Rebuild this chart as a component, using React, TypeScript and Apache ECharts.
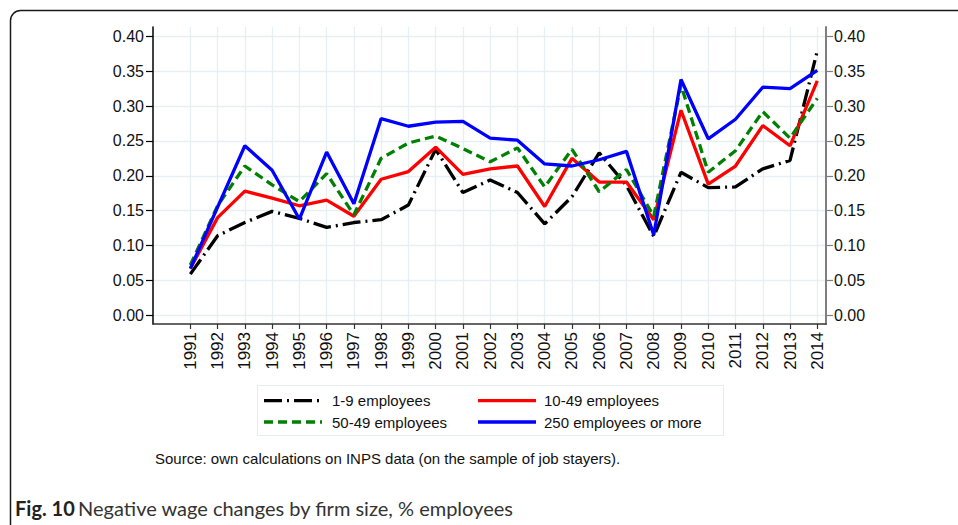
import React, { useEffect, useRef } from "react";
import * as echarts from "echarts";

const years = [1991, 1992, 1993, 1994, 1995, 1996, 1997, 1998, 1999, 2000, 2001, 2002, 2003, 2004, 2005, 2006, 2007, 2008, 2009, 2010, 2011, 2012, 2013, 2014];
const yTicks = [0, 0.05, 0.1, 0.15, 0.2, 0.25, 0.3, 0.35, 0.4];
const seriesNames = ["1-9 employees", "10-49 employees", "50-49 employees", "250 employees or more"];
const firms1to9 = [0.059, 0.114, 0.133, 0.149, 0.139, 0.126, 0.133, 0.137, 0.158, 0.238, 0.176, 0.194, 0.176, 0.131, 0.170, 0.233, 0.186, 0.113, 0.205, 0.183, 0.184, 0.210, 0.222, 0.379];
const firms10to49 = [0.067, 0.140, 0.178, 0.168, 0.157, 0.165, 0.142, 0.195, 0.206, 0.241, 0.202, 0.210, 0.214, 0.156, 0.225, 0.191, 0.191, 0.137, 0.294, 0.188, 0.214, 0.272, 0.243, 0.336];
const firms50to249 = [0.072, 0.157, 0.214, 0.187, 0.163, 0.203, 0.144, 0.225, 0.247, 0.257, 0.239, 0.220, 0.240, 0.184, 0.238, 0.177, 0.209, 0.142, 0.330, 0.205, 0.236, 0.292, 0.254, 0.311];
const firms250plus = [0.067, 0.155, 0.243, 0.208, 0.138, 0.234, 0.160, 0.282, 0.271, 0.277, 0.278, 0.254, 0.251, 0.217, 0.214, 0.223, 0.235, 0.115, 0.338, 0.253, 0.281, 0.327, 0.325, 0.351];
const sourceNote = "Source: own calculations on INPS data (on the sample of job stayers).";
const figLabel = "Fig. 10";
const figTitle = "Negative wage changes by firm size, % employees";

const FONT = "'Liberation Sans', Arial, Helvetica, sans-serif";
const CAP_FONT = "Lato, 'Open Sans', sans-serif";
const colors = ["#000000", "#ff0000", "#008000", "#0000ff"];
const dashes: (number[] | "solid")[] = [[18, 5, 2, 5], "solid", [9, 5], "solid"];
const LW = 3.3;

export default function App() {
  const ref = useRef<HTMLDivElement>(null);
  useEffect(() => {
    if (!ref.current) return;
    const chart = echarts.init(ref.current, undefined, { renderer: "svg" });
    const allData = [firms1to9, firms10to49, firms50to249, firms250plus];
    const yMin = -0.0125;
    const yMax = 0.4133;
    const yAxisBase = (pos: "left" | "right", color: string, width: number) => ({
      type: "value",
      position: pos,
      min: yMin,
      max: yMax,
      axisLine: { show: true, onZero: false, lineStyle: { color, width } },
      axisTick: { show: true, customValues: yTicks, length: 7, lineStyle: { color, width: 1.2 } },
      axisLabel: {
        customValues: yTicks,
        formatter: (v: number) => v.toFixed(2),
        margin: pos === "left" ? 9 : 8,
        fontSize: 16,
        color: "#111",
        fontFamily: FONT,
      },
      splitLine: pos === "left" ? { show: true, lineStyle: { color: "#e6eff1", width: 1.3 } } : { show: false },
    });

    const legendPos = [
      { lx: 264, tx: 332, y: 400.7 },
      { lx: 478, tx: 544, y: 400.7 },
      { lx: 264, tx: 332, y: 422 },
      { lx: 478, tx: 544, y: 422 },
    ];
    const legendEls: any[] = [];
    seriesNames.forEach((name, i) => {
      const p = legendPos[i];
      legendEls.push({
        type: "line",
        shape: { x1: p.lx, y1: p.y, x2: p.lx + 58, y2: p.y },
        style: { stroke: colors[i], lineWidth: LW, lineDash: dashes[i] === "solid" ? null : dashes[i] },
        silent: true,
      });
      legendEls.push({
        type: "text",
        x: p.tx,
        y: p.y,
        style: { text: name, fontSize: 15, fontFamily: FONT, fill: "#111", verticalAlign: "middle", align: "left" },
        silent: true,
      });
    });

    chart.setOption({
      animation: false,
      backgroundColor: "#ffffff",
      grid: { left: 153, right: 132, top: 27, bottom: 201, containLabel: false },
      xAxis: {
        type: "value",
        min: 1989.63,
        max: 2014.32,
        axisLine: { show: true, onZero: false, lineStyle: { color: "#333", width: 1.5 } },
        axisTick: { show: true, customValues: years, length: 5, lineStyle: { color: "#333", width: 1.2 } },
        axisLabel: {
          customValues: years,
          rotate: 90,
          margin: 8,
          fontSize: 17,
          color: "#111",
          fontFamily: FONT,
          formatter: (v: number) => String(Math.round(v)),
        },
        splitLine: { show: true, lineStyle: { color: "#e6eff1", width: 1.3 } },
      },
      yAxis: [yAxisBase("left", "#000000", 1.5), yAxisBase("right", "#7f7f7f", 2)],
      series: seriesNames.map((name, i) => ({
        name,
        type: "line",
        yAxisIndex: 0,
        symbol: "none",
        z: 2 + i,
        data: years.map((yr, j) => [yr, allData[i][j]]),
        lineStyle: { color: colors[i], width: LW, type: dashes[i], cap: "butt" },
      })),
      graphic: [
        {
          type: "rect",
          shape: { x: 10.5, y: 10.5, width: 1500, height: 1000, r: 10 },
          style: { fill: "none", stroke: "#1a1a1a", lineWidth: 1.5 },
          silent: true,
        },
        {
          type: "rect",
          shape: { x: 257.5, y: 385.5, width: 466, height: 50 },
          style: { fill: "none", stroke: "#e3ecee", lineWidth: 1 },
          silent: true,
        },
        ...legendEls,
        {
          type: "text",
          x: 155,
          y: 458,
          style: { text: sourceNote, fontSize: 15, fontFamily: FONT, fill: "#111", verticalAlign: "middle" },
          silent: true,
        },
        {
          type: "text",
          x: 15,
          y: 508,
          style: {
            text: "{b|" + figLabel + "} {n|" + figTitle + "}",
            verticalAlign: "middle",
            rich: {
              b: { fontSize: 20, fontWeight: "bold", fontFamily: CAP_FONT, fill: "#222" },
              n: { fontSize: 20, fontFamily: CAP_FONT, fill: "#333" },
            },
          },
          silent: true,
        },
      ],
    });
    return () => chart.dispose();
  }, []);
  return <div ref={ref} style={{ position: "fixed", left: 0, top: 0, width: 958, height: 525, background: "#fff" }} />;
}
